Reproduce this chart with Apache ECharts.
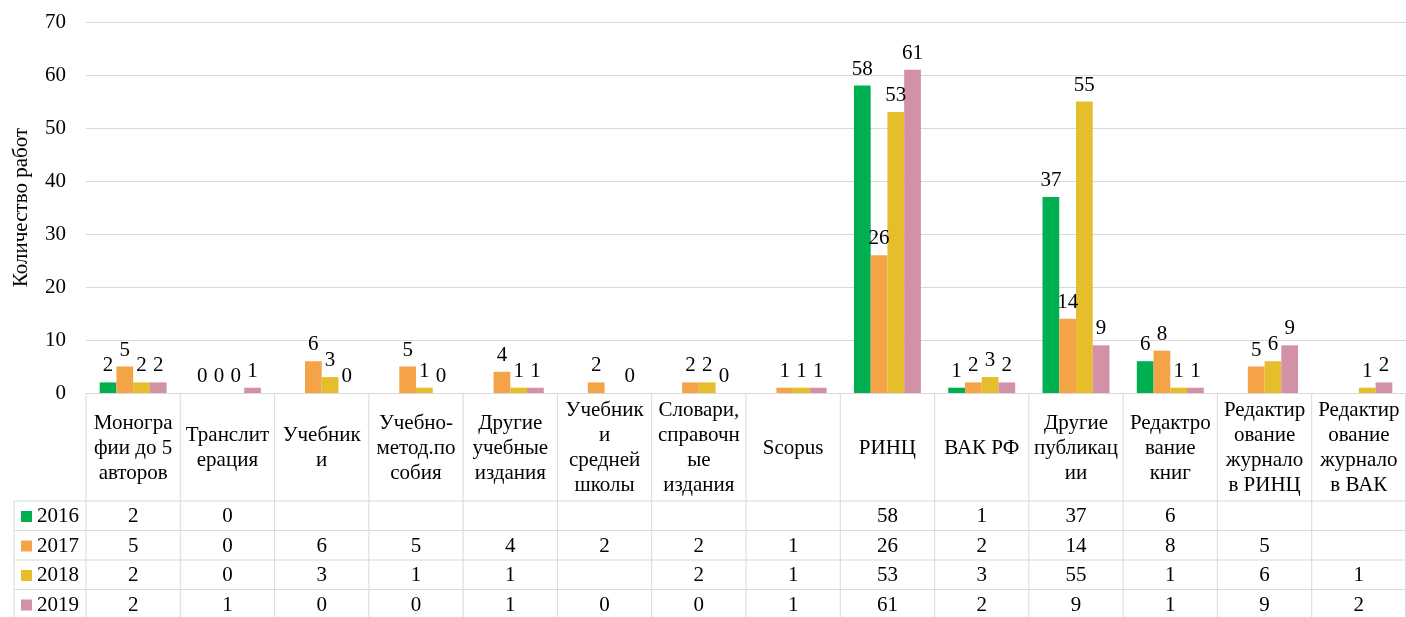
<!DOCTYPE html>
<html>
<head>
<meta charset="utf-8">
<script src="https://cdn.jsdelivr.net/npm/echarts@6/dist/echarts.min.js"></script>
<style>
html,body{margin:0;padding:0;background:#fff;}
#chart{width:1406px;height:617px;}
</style>
</head>
<body>
<div id="chart"></div>
<script>
const categories = [
  'Моногра\nфии до 5\nавторов',
  'Транслит\nерация',
  'Учебник\nи',
  'Учебно-\nметод.по\nсобия',
  'Другие\nучебные\nиздания',
  'Учебник\nи\nсредней\nшколы',
  'Словари,\nсправочн\nые\nиздания',
  'Scopus',
  'РИНЦ',
  'ВАК РФ',
  'Другие\nпубликац\nии',
  'Редактро\nвание\nкниг',
  'Редактир\nование\nжурнало\nв РИНЦ',
  'Редактир\nование\nжурнало\nв ВАК'
];
const years = ['2016', '2017', '2018', '2019'];
const v2016 = [2, 0, null, null, null, null, null, null, 58, 1, 37, 6, null, null];
const v2017 = [5, 0, 6, 5, 4, 2, 2, 1, 26, 2, 14, 8, 5, null];
const v2018 = [2, 0, 3, 1, 1, null, 2, 1, 53, 3, 55, 1, 6, 1];
const v2019 = [2, 1, 0, 0, 1, 0, 0, 1, 61, 2, 9, 1, 9, 2];
const yAxisTitle = 'Количество работ';

const seriesValues = [v2016, v2017, v2018, v2019];
const colors = ['#00B050', '#F4A446', '#E6BD2B', '#D291A6'];
const FONT = '"Liberation Serif", "Times New Roman", serif';
const FS = 21;
const LINE = '#d9d9d9';

const chart = echarts.init(document.getElementById('chart'));

const barSeries = years.map((y, k) => ({
  name: y,
  type: 'bar',
  data: seriesValues[k],
  barGap: '0%',
  barCategoryGap: '29%',
  itemStyle: { color: colors[k] },
  label: {
    show: true,
    position: 'top',
    distance: 6,
    color: '#000',
    fontFamily: FONT,
    fontSize: FS
  },
  emphasis: { disabled: true }
}));

const HEADER_H = 108;
const ROW_H = 29.5;
const LEGEND_LEFT = 14;

const tableSeries = {
  type: 'custom',
  clip: false,
  silent: true,
  z: 1,
  data: categories.map((c, i) => [i, 0]),
  renderItem: function (params, api) {
    const i = api.value(0);
    const p = api.coord([i, 0]);
    const w = api.size([1, 0])[0];
    const left = p[0] - w / 2;
    const right = p[0] + w / 2;
    const top = p[1];
    const bottom = top + HEADER_H + ROW_H * 5;
    const children = [];
    children.push({ type: 'line', shape: { x1: left, y1: top, x2: left, y2: bottom }, style: { stroke: LINE, lineWidth: 1 } });
    if (i === categories.length - 1) {
      children.push({ type: 'line', shape: { x1: right - 0.5, y1: top, x2: right - 0.5, y2: bottom }, style: { stroke: LINE, lineWidth: 1 } });
    }
    if (i === 0) {
      children.push({ type: 'line', shape: { x1: LEGEND_LEFT, y1: top + HEADER_H, x2: LEGEND_LEFT, y2: bottom }, style: { stroke: LINE, lineWidth: 1 } });
    }
    for (let r = 0; r <= 4; r++) {
      const yy = top + HEADER_H + r * ROW_H;
      const x1 = i === 0 ? LEGEND_LEFT : left;
      children.push({ type: 'line', shape: { x1: x1, y1: yy, x2: right, y2: yy }, style: { stroke: LINE, lineWidth: 1 } });
    }
    children.push({
      type: 'text',
      style: {
        text: categories[i], x: p[0], y: top + HEADER_H / 2 + 1,
        align: 'center', verticalAlign: 'middle',
        textAlign: 'center', textVerticalAlign: 'middle',
        fill: '#000', fontFamily: FONT, fontSize: FS, lineHeight: 25
      }
    });
    for (let k = 0; k < 4; k++) {
      const v = seriesValues[k][i];
      if (v === null || v === undefined) continue;
      children.push({
        type: 'text',
        style: {
          text: String(v), x: p[0], y: top + HEADER_H + k * ROW_H + ROW_H / 2 + 1,
          align: 'center', verticalAlign: 'middle',
          textAlign: 'center', textVerticalAlign: 'middle',
          fill: '#000', fontFamily: FONT, fontSize: FS
        }
      });
    }
    return { type: 'group', children: children };
  }
};

chart.setOption({
  animation: false,
  color: colors,
  textStyle: { fontFamily: FONT },
  grid: { left: 86, right: 0, top: 22, bottom: 224, containLabel: false },
  legend: {
    data: years,
    orient: 'vertical',
    left: 21,
    top: 506,
    padding: 0,
    icon: 'rect',
    itemWidth: 11,
    itemHeight: 11,
    itemGap: 8.5,
    selectedMode: false,
    textStyle: { fontFamily: FONT, fontSize: FS, color: '#000', lineHeight: 21, padding: [0, 0, 0, 0] }
  },
  xAxis: {
    type: 'category',
    data: categories,
    boundaryGap: true,
    axisLine: { show: true, lineStyle: { color: LINE, width: 1 } },
    axisTick: { show: false },
    axisLabel: { show: false },
    splitLine: { show: false }
  },
  yAxis: {
    type: 'value',
    min: 0,
    max: 70,
    interval: 10,
    name: yAxisTitle,
    nameLocation: 'middle',
    nameGap: 54,
    nameTextStyle: { fontFamily: FONT, fontSize: FS, color: '#000' },
    axisLine: { show: false },
    axisTick: { show: false },
    axisLabel: { color: '#000', fontFamily: FONT, fontSize: FS, margin: 20 },
    splitLine: { show: true, lineStyle: { color: LINE, width: 1 } }
  },
  series: barSeries.concat([tableSeries])
});
</script>
</body>
</html>
